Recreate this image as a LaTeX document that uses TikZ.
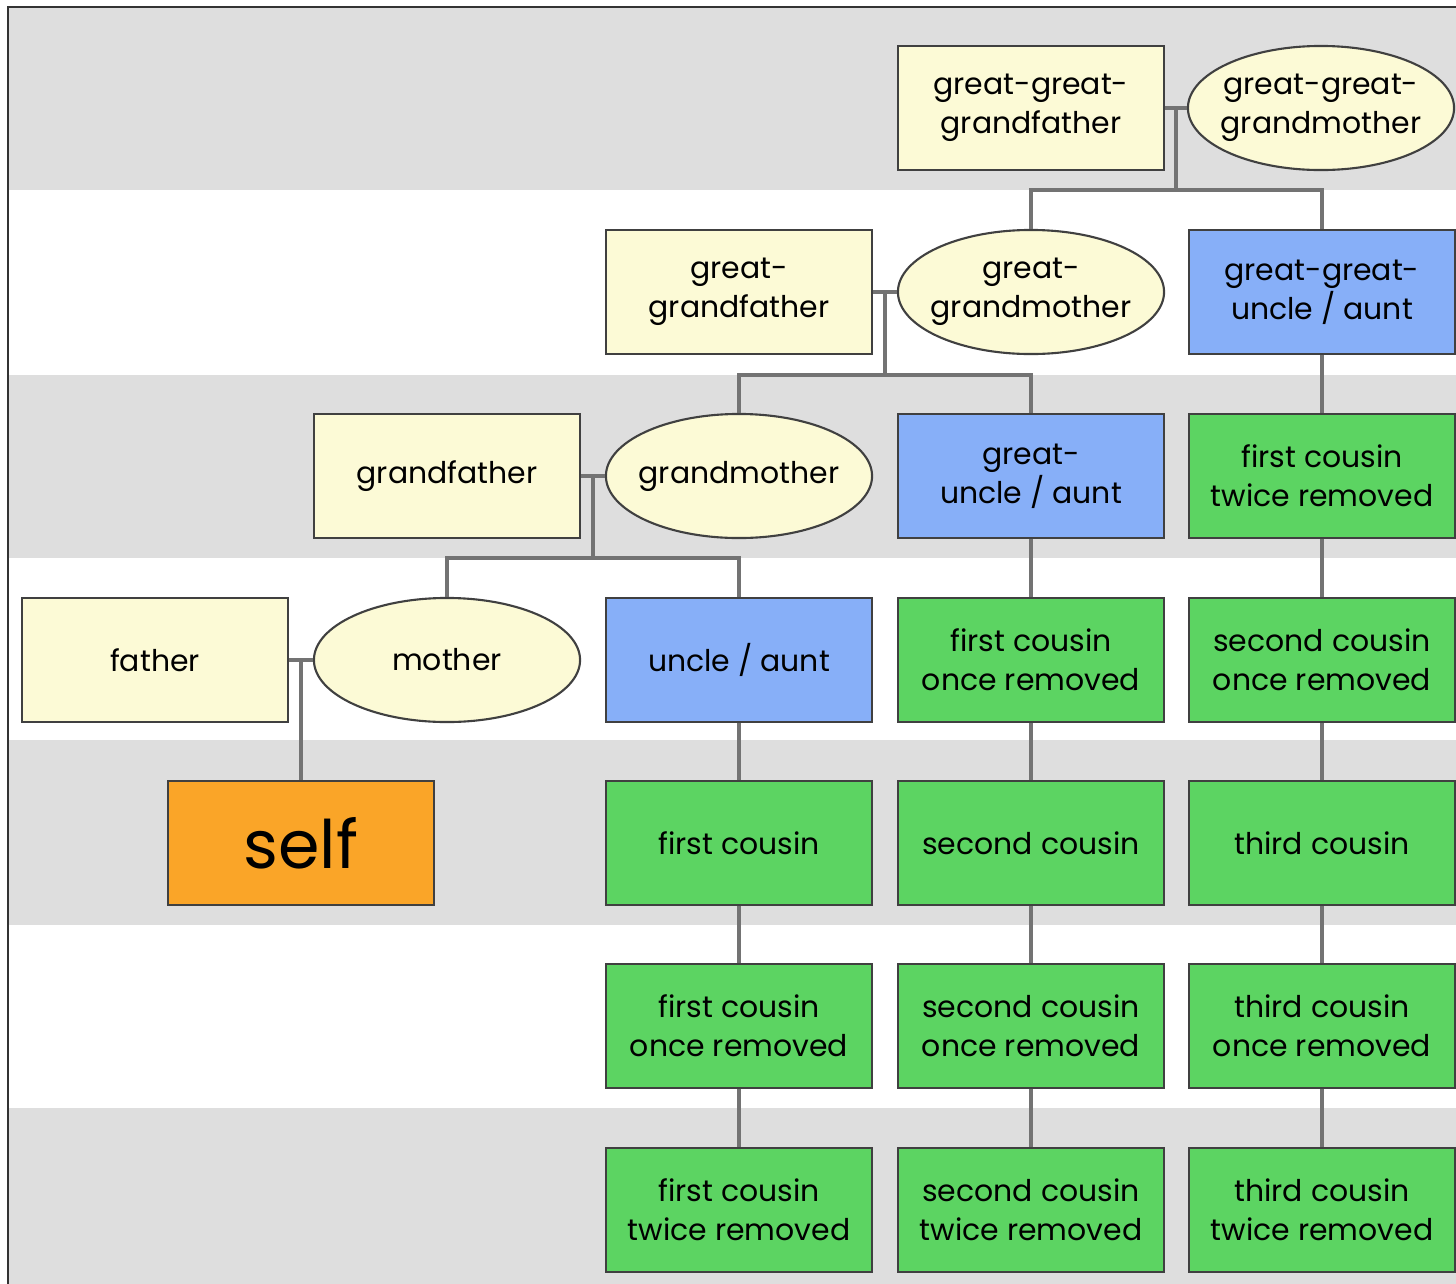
\documentclass[tikz,border=0pt]{standalone}
\usepackage{fontspec}
\setmainfont{Poppins}
\usetikzlibrary{shapes.geometric,calc}
\definecolor{cream}{RGB}{252,250,214}
\definecolor{kinblue}{RGB}{135,175,248}
\definecolor{kingreen}{RGB}{92,212,98}
\definecolor{selforange}{RGB}{250,165,40}
\definecolor{band}{RGB}{222,222,222}

\begin{document}
\begin{tikzpicture}[x=0.01cm,y=-0.01cm,
  box/.style={draw=black!75,line width=0.6pt,minimum width=2.66cm,minimum height=1.24cm,
    inner sep=1pt,align=center,font=\fontsize{8.5}{11}\selectfont},
  male/.style={box,fill=cream},
  female/.style={box,ellipse,fill=cream,inner xsep=-8pt,inner ysep=0pt},
  kin/.style={box,fill=kinblue},
  cousin/.style={box,fill=kingreen},
  link/.style={black!55,line width=1pt}]
  \useasboundingbox (0,0) rectangle (1456,1284);

  % generation bands
  \path[fill=band] (8,8) rectangle (1456,190);
  \path[fill=band] (8,375) rectangle (1456,558);
  \path[fill=band] (8,740) rectangle (1456,925);
  \path[fill=band] (8,1108) rectangle (1456,1284);
  \draw[black!80,line width=0.7pt] (8,1284) -- (8,7) -- (1456,7);

  % ancestors
  \node[male] (F) at (155,660) {father};
  \node[female] (M) at (447,660) {mother};
  \node[box,fill=selforange,font=\fontsize{19}{22}\selectfont] (S) at (301,843) {self};
  \node[male] (GF) at (447,476) {grandfather};
  \node[female] (GM) at (739,476) {grandmother};
  \node[male] (GGF) at (739,292) {great-\\grandfather};
  \node[female] (GGM) at (1031,292) {great-\\grandmother};
  \node[male] (GGGF) at (1031,108) {great-great-\\grandfather};
  \node[female] (GGGM) at (1321,108) {great-great-\\grandmother};

  % uncles and aunts
  \node[kin] (U1) at (739,660) {uncle / aunt};
  \node[kin] (U2) at (1031,476) {great-\\uncle / aunt};
  \node[kin] (U3) at (1322,292) {great-great-\\uncle / aunt};

  % cousins
  \node[cousin] (C1) at (739,843) {first cousin};
  \node[cousin] (C1a) at (739,1026) {first cousin\\once removed};
  \node[cousin] (C1b) at (739,1210) {first cousin\\twice removed};
  \node[cousin] (C2u) at (1031,660) {first cousin\\once removed};
  \node[cousin] (C2) at (1031,843) {second cousin};
  \node[cousin] (C2a) at (1031,1026) {second cousin\\once removed};
  \node[cousin] (C2b) at (1031,1210) {second cousin\\twice removed};
  \node[cousin] (C3v) at (1322,476) {first cousin\\twice removed};
  \node[cousin] (C3u) at (1322,660) {second cousin\\once removed};
  \node[cousin] (C3) at (1322,843) {third cousin};
  \node[cousin] (C3a) at (1322,1026) {third cousin\\once removed};
  \node[cousin] (C3b) at (1322,1210) {third cousin\\twice removed};

  % couples and children
  \coordinate (P1) at ($(F.east)!0.5!(M.west)$);
  \draw[link] (F.east) -- (M.west);
  \draw[link] (P1) -- (S.north);

  \coordinate (P2) at ($(GF.east)!0.5!(GM.west)$);
  \coordinate (B2) at (P2 |- 0,558);
  \draw[link] (GF.east) -- (GM.west);
  \draw[link] (P2) -- (B2);
  \draw[link] (M.north) |- (B2) -| (U1.north);

  \coordinate (P3) at ($(GGF.east)!0.5!(GGM.west)$);
  \coordinate (B3) at (P3 |- 0,375);
  \draw[link] (GGF.east) -- (GGM.west);
  \draw[link] (P3) -- (B3);
  \draw[link] (GM.north) |- (B3) -| (U2.north);

  \coordinate (P4) at ($(GGGF.east)!0.5!(GGGM.west)$);
  \coordinate (B4) at (P4 |- 0,190);
  \draw[link] (GGGF.east) -- (GGGM.west);
  \draw[link] (P4) -- (B4);
  \draw[link] (GGM.north) |- (B4) -| (U3.north);

  % lines of descent
  \draw[link] (U1) -- (C1) -- (C1a) -- (C1b);
  \draw[link] (U2) -- (C2u) -- (C2) -- (C2a) -- (C2b);
  \draw[link] (U3) -- (C3v) -- (C3u) -- (C3) -- (C3a) -- (C3b);
\end{tikzpicture}
\end{document}
